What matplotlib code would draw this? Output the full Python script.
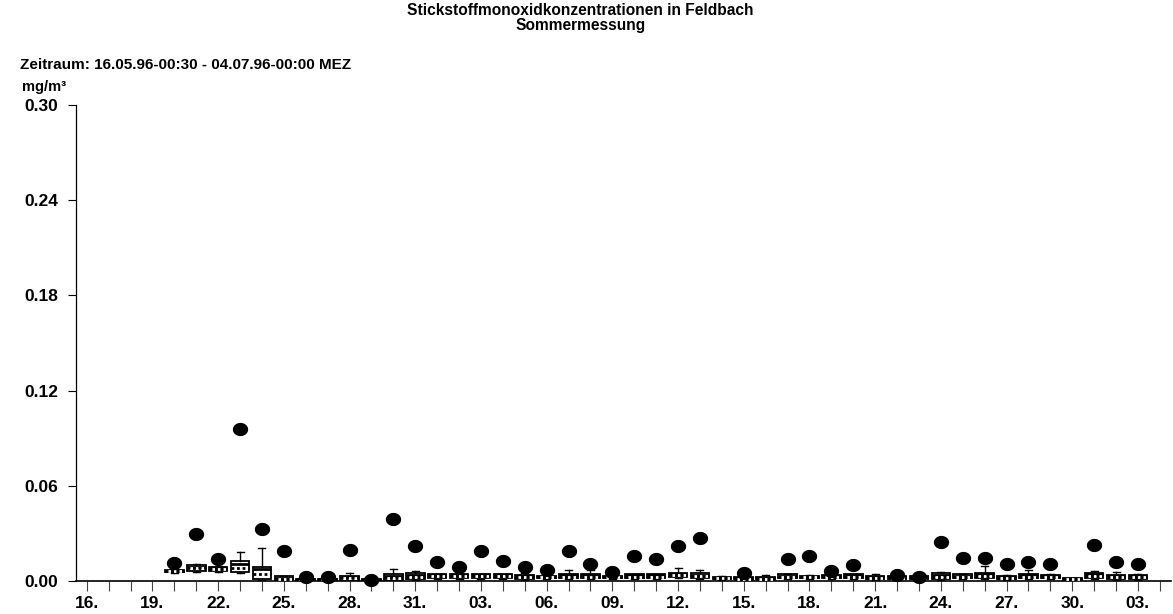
import matplotlib
matplotlib.use("Agg")
import matplotlib.pyplot as plt
import numpy as np
from matplotlib.path import Path

plt.rcParams['font.family'] = ['Liberation Sans', 'DejaVu Sans']
plt.rcParams['font.weight'] = 'bold'

# Calendar: 16.05.1996 (index 0) .. 04.07.1996 (index 49)
day_labels = ['16.', '19.', '22.', '25.', '28.', '31.', '03.', '06.', '09.',
              '12.', '15.', '18.', '21.', '24.', '27.', '30.', '03.']
n_days = 50

# Daily statistics of NO (mg/m³), 20.05. .. 03.07.
days = list(range(4, 49))
q1 = [0.0055, 0.0065, 0.0065, 0.0055, 0.0013, 0.0003, 0.0003, 0.0003, 0.0003,
      0.0001, 0.0002, 0.0013, 0.0021, 0.0021, 0.0021, 0.0021, 0.0013, 0.0017,
      0.0017, 0.0019, 0.0019, 0.0017, 0.0017, 0.0025, 0.0017, 0.0010, 0.0010,
      0.0010, 0.0017, 0.0017, 0.0017, 0.0017, 0.0013, 0.0013, 0.0013, 0.0013,
      0.0017, 0.0017, 0.0013, 0.0017, 0.0017, 0.0006, 0.0019, 0.0013, 0.0013]
q3 = [0.0070, 0.0100, 0.0090, 0.0125, 0.0088, 0.0030, 0.0015, 0.0015, 0.0034,
      0.0010, 0.0042, 0.0048, 0.0044, 0.0042, 0.0044, 0.0042, 0.0038, 0.0033,
      0.0044, 0.0042, 0.0031, 0.0044, 0.0044, 0.0052, 0.0048, 0.0027, 0.0023,
      0.0023, 0.0042, 0.0033, 0.0038, 0.0044, 0.0033, 0.0030, 0.0030, 0.0048,
      0.0042, 0.0052, 0.0033, 0.0044, 0.0038, 0.0021, 0.0052, 0.0038, 0.0038]
daily_mean = [0.0065, 0.0090, 0.0080, 0.0110, 0.0076, 0.0022, 0.0010, 0.0010,
              0.0025, 0.0006, 0.0032, 0.0038, 0.0036, 0.0035, 0.0036, 0.0035,
              0.0030, 0.0027, 0.0036, 0.0035, 0.0027, 0.0036, 0.0036, 0.0043,
              0.0040, 0.0021, 0.0018, 0.0018, 0.0034, 0.0027, 0.0031, 0.0036,
              0.0026, 0.0024, 0.0023, 0.0038, 0.0034, 0.0042, 0.0026, 0.0036,
              0.0030, 0.0015, 0.0042, 0.0030, 0.0030]
daily_median = [0.0062, 0.0082, 0.0076, 0.0080, 0.0044, 0.0015, 0.0008, 0.0008,
                0.0016, 0.0005, 0.0020, 0.0028, 0.0030, 0.0029, 0.0030, 0.0029,
                0.0024, 0.0024, 0.0028, 0.0028, 0.0024, 0.0028, 0.0028, 0.0036,
                0.0030, 0.0017, 0.0015, 0.0015, 0.0028, 0.0024, 0.0026, 0.0028,
                0.0022, 0.0020, 0.0020, 0.0028, 0.0028, 0.0032, 0.0022, 0.0028,
                0.0026, 0.0012, 0.0033, 0.0024, 0.0024]
whisk_lo = [0.0050, 0.0055, 0.0055, 0.0048, 0.0008, 0.0001, 0.0001, 0.0001,
            0.0001, 0.0000, 0.0001, 0.0008, 0.0015, 0.0015, 0.0015, 0.0015,
            0.0008, 0.0012, 0.0012, 0.0013, 0.0013, 0.0012, 0.0012, 0.0018,
            0.0012, 0.0006, 0.0006, 0.0006, 0.0012, 0.0012, 0.0012, 0.0012,
            0.0008, 0.0008, 0.0008, 0.0008, 0.0012, 0.0012, 0.0008, 0.0012,
            0.0012, 0.0003, 0.0013, 0.0008, 0.0008]
whisk_hi = [0.0075, 0.0105, 0.0095, 0.0180, 0.0206, 0.0032, 0.0016, 0.0016,
            0.0048, 0.0010, 0.0074, 0.0065, 0.0046, 0.0048, 0.0046, 0.0044,
            0.0048, 0.0035, 0.0069, 0.0069, 0.0033, 0.0046, 0.0046, 0.0080,
            0.0069, 0.0033, 0.0025, 0.0038, 0.0044, 0.0035, 0.0040, 0.0046,
            0.0044, 0.0032, 0.0031, 0.0055, 0.0044, 0.0095, 0.0038, 0.0069,
            0.0044, 0.0022, 0.0065, 0.0059, 0.0044]
daily_max = [0.0112, 0.0298, 0.0137, 0.0956, 0.0328, 0.0187, 0.0027, 0.0027,
             0.0197, 0.0006, 0.0389, 0.0219, 0.0120, 0.0088, 0.0187, 0.0128,
             0.0088, 0.0069, 0.0189, 0.0107, 0.0059, 0.0158, 0.0137, 0.0219,
             0.0269, np.nan, 0.0048, np.nan, 0.0137, 0.0158, 0.0063, 0.0099,
             np.nan, 0.0040, 0.0027, 0.0248, 0.0147, 0.0147, 0.0107, 0.0118,
             0.0107, np.nan, 0.0227, 0.0118, 0.0107]

y_ticks = [0.00, 0.06, 0.12, 0.18, 0.24, 0.30]

fig = plt.figure(figsize=(11.73, 6.14), dpi=100)
ax = fig.add_axes([0.0646, 0.0537, 0.9335, 0.7753])

stats = []
for i in range(len(days)):
    stats.append(dict(med=daily_median[i], q1=q1[i], q3=q3[i],
                      whislo=whisk_lo[i], whishi=whisk_hi[i],
                      mean=daily_mean[i], fliers=[]))

art = ax.bxp(stats, positions=days, widths=0.85, capwidths=0.32,
             showmeans=True, meanline=True, showfliers=False,
             manage_ticks=False, patch_artist=True,
             boxprops=dict(facecolor='white', edgecolor='black', linewidth=1.3),
             whiskerprops=dict(color='black', linewidth=1.0),
             capprops=dict(color='black', linewidth=1.0),
             meanprops=dict(color='black', linestyle='-', linewidth=2.0),
             medianprops=dict(color='black', linestyle=(0, (1.0, 1.0)),
                              linewidth=2.0, gapcolor='white'))
for ln in art['medians']:
    ln.set_zorder(4)

# daily maxima as filled ellipses
t = np.linspace(0, 2 * np.pi, 60)
ellipse = Path(np.column_stack([np.cos(t), 0.85 * np.sin(t)]), closed=True)
ax.plot(days, daily_max, linestyle='none', marker=ellipse, markersize=10,
        color='black', zorder=5, clip_on=False)

ax.set_xlim(-0.5, n_days - 0.5)
ax.set_ylim(0, 0.30)

ax.set_xticks(range(n_days))
ax.set_xticklabels([day_labels[k // 3] if k % 3 == 0 and k // 3 < len(day_labels) else ''
                    for k in range(n_days)])
ax.tick_params(axis='x', direction='out', length=7.2, width=0.8, color='#444444',
               labelsize=12.5, pad=3.5)
ax.set_yticks(y_ticks)
ax.set_yticklabels([f'{v:.2f}' for v in y_ticks])
ax.tick_params(axis='y', direction='out', length=5.8, width=0.8, labelsize=12.5, pad=7)

for side in ('top', 'right'):
    ax.spines[side].set_visible(False)
ax.spines['left'].set_linewidth(0.9)
ax.spines['bottom'].set_linewidth(1.2)

fig.text(0.495, 0.995, 'Stickstoffmonoxidkonzentrationen in Feldbach\nSommermessung',
         ha='center', va='top', fontsize=11.2, fontweight='bold', linespacing=1.0)
fig.text(0.017, 0.894, 'Zeitraum: 16.05.96-00:30 - 04.07.96-00:00 MEZ',
         ha='left', va='center', fontsize=11, fontweight='bold')
fig.text(0.019, 0.858, 'mg/m³', ha='left', va='center', fontsize=10.5, fontweight='bold')

fig.savefig('out.png', dpi=100)
